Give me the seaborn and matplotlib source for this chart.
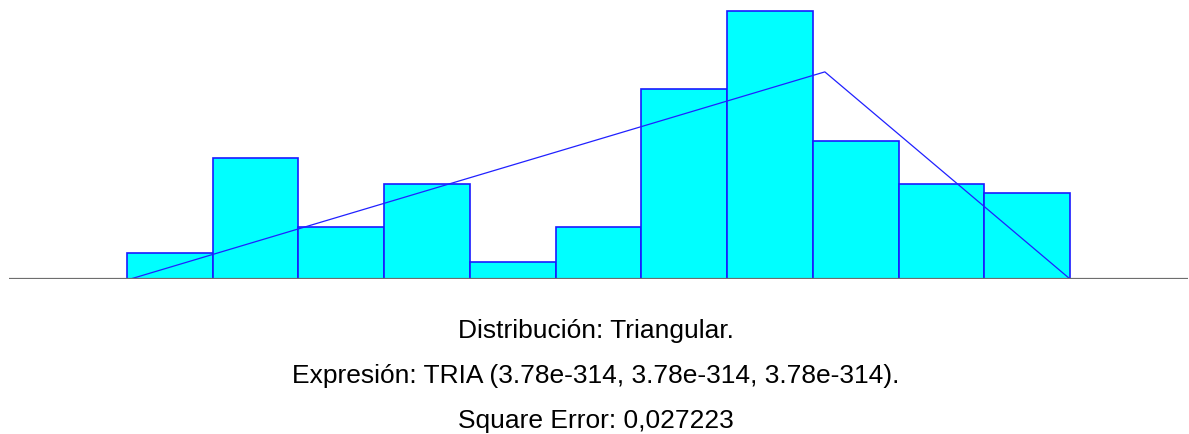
import matplotlib
matplotlib.use('Agg')
import matplotlib.pyplot as plt
import seaborn as sns

sns.set_theme(style='white')
plt.rcParams['font.family'] = ['Liberation Sans', 'DejaVu Sans']

# histogram classes (bin index units) and observed counts
bin_edges = [0, 1, 2, 3, 4, 5, 6, 7, 8, 9, 10, 11]
counts = [3, 14, 6, 11, 2, 6, 22, 31, 16, 11, 10]

# fitted triangular density (min, mode, max) and peak height in count units
tri_x = [0.04, 8.14, 11.0]
tri_y = [0, 24, 0]

lines = [
    'Distribución: Triangular.',
    'Expresión: TRIA (3.78e-314, 3.78e-314, 3.78e-314).',
    'Square Error: 0,027223',
]

W, H = 1189, 435
fig = plt.figure(figsize=(W / 100, H / 100), dpi=100)

bin_px = 85.73
left_px, right_px, base_px = 9, 1188, 280
x0 = (left_px - 127) / bin_px
x1 = (right_px - 127) / bin_px
ax = fig.add_axes([left_px / W, (H - base_px) / H, (right_px - left_px) / W, base_px / H])

centers = [(a + b) / 2 for a, b in zip(bin_edges[:-1], bin_edges[1:])]
sns.histplot(x=centers, weights=counts, bins=bin_edges, color='#00ffff',
             edgecolor='#1a1aff', linewidth=1.2, alpha=1, ax=ax)
sns.lineplot(x=tri_x, y=tri_y, color='#2020ff', linewidth=0.9, ax=ax)
ax.axhline(0, color='#6e6e6e', linewidth=1.6, zorder=5)

ax.set_xlim(x0, x1)
ax.set_ylim(0, base_px / 8.63)
ax.set_axis_off()

for i, txt in enumerate(lines):
    fig.text(596 / W, 1 - (338 + 45 * i) / H, txt, ha='center', va='baseline',
             fontsize=19, color='black')

fig.savefig('out.png', dpi=100)
